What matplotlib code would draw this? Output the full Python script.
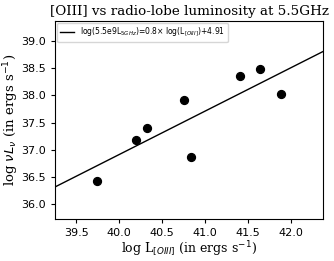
import numpy as np
import matplotlib
matplotlib.use("Agg")
import matplotlib.pyplot as plt

# log L[OIII] and log nu L_nu at 5.5 GHz
log_oiii = [39.74, 40.20, 40.33, 40.75, 40.83, 41.41, 41.64, 41.88]
log_radio = [36.42, 37.18, 37.40, 37.91, 36.87, 38.35, 38.48, 38.02]

slope = 0.8
intercept = 4.91

xlim = (39.256, 42.37)
ylim = (35.72, 39.37)

fig, ax = plt.subplots(figsize=(3.34, 2.61), dpi=100)
fig.subplots_adjust(left=0.165, right=0.967, top=0.92, bottom=0.16)

xx = np.array(xlim)
ax.plot(xx, slope * xx + intercept, color="black", lw=1.0,
        label=r"log(5.5e9L$_{5GHz}$)=0.8$\times$ log(L$_{[OIII]}$)+4.91")
ax.scatter(log_oiii, log_radio, s=32, color="black", zorder=3)

ax.set_xlim(*xlim)
ax.set_ylim(*ylim)
ax.set_xticks([39.5, 40.0, 40.5, 41.0, 41.5, 42.0])
ax.set_yticks([36.0, 36.5, 37.0, 37.5, 38.0, 38.5, 39.0])
ax.tick_params(labelsize=8, length=3)

ax.set_title("[OIII] vs radio-lobe luminosity at 5.5GHz", family="DejaVu Serif", fontsize=9.7, pad=4)
ax.set_xlabel(r"log L$_{[OIII]}$ (in ergs s$^{-1}$)", family="DejaVu Serif", fontsize=9, labelpad=1)
ax.set_ylabel(r"log $\nu L_\nu$ (in ergs s$^{-1}$)", family="DejaVu Serif", fontsize=9.5, labelpad=0)

ax.legend(loc="upper left", fontsize=5.5, handlelength=1.8, borderaxespad=0.25)

fig.savefig("out.png", dpi=100)
